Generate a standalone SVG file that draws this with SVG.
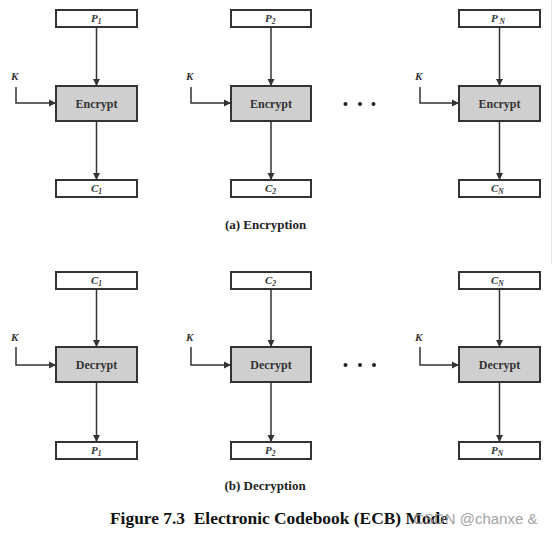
<svg xmlns="http://www.w3.org/2000/svg" width="555" height="533" viewBox="0 0 555 533">
<style>
.io{fill:#fff;stroke:#333;stroke-width:2}
.fn{fill:#cfcfcf;stroke:#333;stroke-width:2}
.lbl{font-family:"Liberation Serif",serif;font-weight:bold;font-size:12px;fill:#333;text-anchor:middle}
.var{font-family:"Liberation Serif",serif;font-weight:bold;font-style:italic;font-size:11px;fill:#333}
.wire{fill:none;stroke:#333;stroke-width:1.5}
.cap{font-family:"Liberation Serif",serif;font-weight:bold;font-size:13px;fill:#222;text-anchor:middle}
.dot{fill:#222}
</style>
<defs>
<marker id="ah" viewBox="0 0 10 10" refX="10" refY="5" markerWidth="5" markerHeight="5" orient="auto" markerUnits="strokeWidth">
<path d="M0,0 L10,5 L0,10 z" fill="#333"/>
</marker>
</defs>
<rect width="555" height="533" fill="#fff"/>
<line x1="551.5" y1="0" x2="551.5" y2="264" stroke="#e6e6e6" stroke-width="1"/>

<g id="connectors">
<path class="wire" d="M96.5,27 V86" marker-end="url(#ah)"/>
<path class="wire" d="M96.5,121 V180" marker-end="url(#ah)"/>
<path class="wire" d="M16,87 V103 H56" marker-end="url(#ah)"/>
<path class="wire" d="M271,27 V86" marker-end="url(#ah)"/>
<path class="wire" d="M271,121 V180" marker-end="url(#ah)"/>
<path class="wire" d="M191,87 V103 H231" marker-end="url(#ah)"/>
<path class="wire" d="M499.5,27 V86" marker-end="url(#ah)"/>
<path class="wire" d="M499.5,121 V180" marker-end="url(#ah)"/>
<path class="wire" d="M420,87 V103 H459" marker-end="url(#ah)"/>

<path class="wire" d="M96.5,289 V347" marker-end="url(#ah)"/>
<path class="wire" d="M96.5,382 V442" marker-end="url(#ah)"/>
<path class="wire" d="M16,347 V365 H56" marker-end="url(#ah)"/>
<path class="wire" d="M271,289 V347" marker-end="url(#ah)"/>
<path class="wire" d="M271,382 V442" marker-end="url(#ah)"/>
<path class="wire" d="M191,347 V365 H231" marker-end="url(#ah)"/>
<path class="wire" d="M499.5,289 V347" marker-end="url(#ah)"/>
<path class="wire" d="M499.5,382 V442" marker-end="url(#ah)"/>
<path class="wire" d="M420,347 V365 H459" marker-end="url(#ah)"/>
</g>

<!-- Encryption -->
<g id="P1"><rect class="io" x="56" y="10" width="81" height="17"/><text class="var" x="91" y="22">P<tspan font-size="7.5" dy="2">1</tspan></text></g>
<g id="Enc1"><rect class="fn" x="56" y="86" width="81" height="35"/><text class="lbl" x="96.5" y="107.5">Encrypt</text></g>
<g id="C1"><rect class="io" x="56" y="180" width="81" height="17"/><text class="var" x="91" y="192">C<tspan font-size="7.5" dy="2">1</tspan></text></g>
<g id="K1"><text class="var" x="11" y="80">K</text></g>

<g id="P2"><rect class="io" x="231" y="10" width="80" height="17"/><text class="var" x="265" y="22">P<tspan font-size="7.5" dy="2">2</tspan></text></g>
<g id="Enc2"><rect class="fn" x="231" y="86" width="80" height="35"/><text class="lbl" x="271" y="107.5">Encrypt</text></g>
<g id="C2"><rect class="io" x="231" y="180" width="80" height="17"/><text class="var" x="265" y="192">C<tspan font-size="7.5" dy="2">2</tspan></text></g>
<g id="K2"><text class="var" x="186" y="80">K</text></g>

<g id="PN"><rect class="io" x="459" y="10" width="81" height="17"/><text class="var" x="491" y="22">P<tspan font-size="7.5" dy="2"> N</tspan></text></g>
<g id="EncN"><rect class="fn" x="459" y="86" width="81" height="35"/><text class="lbl" x="499.5" y="107.5">Encrypt</text></g>
<g id="CN"><rect class="io" x="459" y="180" width="81" height="17"/><text class="var" x="491" y="192">C<tspan font-size="7.5" dy="2">N</tspan></text></g>
<g id="KN"><text class="var" x="415" y="80">K</text></g>

<g id="dotsA"><circle class="dot" cx="345.5" cy="104" r="2"/><circle class="dot" cx="360" cy="104" r="2"/><circle class="dot" cx="373.5" cy="104" r="2"/></g>
<text class="cap" x="265.5" y="229">(a) Encryption</text>

<!-- Decryption -->
<g id="DC1"><rect class="io" x="56" y="272" width="81" height="17"/><text class="var" x="91" y="284">C<tspan font-size="7.5" dy="2">1</tspan></text></g>
<g id="Dec1"><rect class="fn" x="56" y="347" width="81" height="35"/><text class="lbl" x="96.5" y="368.5">Decrypt</text></g>
<g id="DP1"><rect class="io" x="56" y="442" width="81" height="17"/><text class="var" x="91" y="454">P<tspan font-size="7.5" dy="2">1</tspan></text></g>
<g id="DK1"><text class="var" x="11" y="341">K</text></g>

<g id="DC2"><rect class="io" x="231" y="272" width="80" height="17"/><text class="var" x="265" y="284">C<tspan font-size="7.5" dy="2">2</tspan></text></g>
<g id="Dec2"><rect class="fn" x="231" y="347" width="80" height="35"/><text class="lbl" x="271" y="368.5">Decrypt</text></g>
<g id="DP2"><rect class="io" x="231" y="442" width="80" height="17"/><text class="var" x="265" y="454">P<tspan font-size="7.5" dy="2">2</tspan></text></g>
<g id="DK2"><text class="var" x="186" y="341">K</text></g>

<g id="DCN"><rect class="io" x="459" y="272" width="81" height="17"/><text class="var" x="491" y="284">C<tspan font-size="7.5" dy="2">N</tspan></text></g>
<g id="DecN"><rect class="fn" x="459" y="347" width="81" height="35"/><text class="lbl" x="499.5" y="368.5">Decrypt</text></g>
<g id="DPN"><rect class="io" x="459" y="442" width="81" height="17"/><text class="var" x="491" y="454">P<tspan font-size="7.5" dy="2">N</tspan></text></g>
<g id="DKN"><text class="var" x="415" y="341">K</text></g>

<g id="dotsB"><circle class="dot" cx="345.5" cy="365" r="2"/><circle class="dot" cx="360" cy="365" r="2"/><circle class="dot" cx="374" cy="365" r="2"/></g>
<text class="cap" x="265" y="490">(b) Decryption</text>

<text x="110" y="524" font-family="'Liberation Serif',serif" font-weight="bold" font-size="17.4" fill="#111" xml:space="preserve">Figure 7.3  Electronic Codebook (ECB) Mode</text>
<text x="413" y="524" font-family="'Liberation Sans',sans-serif" font-size="15" fill="#9a9a9a" opacity="0.9">CSDN @chanxe &amp;</text>
</svg>
